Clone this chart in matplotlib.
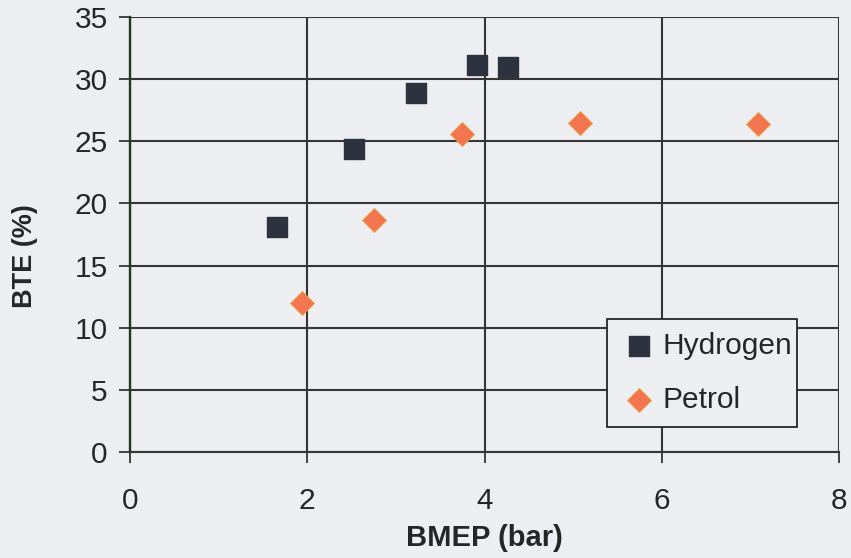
import matplotlib
matplotlib.use("Agg")
import matplotlib.pyplot as plt

# BMEP (bar) against brake thermal efficiency (%)
hydrogen_bmep = [1.66, 2.53, 3.23, 3.91, 4.26]
hydrogen_bte = [18.1, 24.4, 28.9, 31.1, 31.0]

petrol_bmep = [1.94, 2.75, 3.75, 5.08, 7.09]
petrol_bte = [12.0, 18.7, 25.6, 26.5, 26.4]

x_ticks = [0, 2, 4, 6, 8]
y_ticks = [0, 5, 10, 15, 20, 25, 30, 35]

BG = "#eceef2"
GRID = "#353535"
TEXT = "#262626"

plt.rcParams["font.family"] = ["Liberation Sans", "DejaVu Sans"]

fig = plt.figure(figsize=(8.51, 5.58), dpi=100, facecolor=BG)
ax = fig.add_axes([0.1528, 0.19, 0.8332, 0.7795], facecolor=BG)

ax.scatter(hydrogen_bmep, hydrogen_bte, marker="s", s=215, color="#2c333f",
           label="Hydrogen", zorder=3)
ax.scatter(petrol_bmep, petrol_bte, marker="D", s=150, color="#f47650",
           edgecolor="#e8a040", linewidth=0.6, label="Petrol", zorder=3)

ax.set_xlim(0, 8)
ax.set_ylim(0, 35)
ax.set_xticks(x_ticks)
ax.set_yticks(y_ticks)
ax.grid(True, color=GRID, linewidth=1.5)
ax.set_axisbelow(True)

for side in ("top", "right"):
    ax.spines[side].set_visible(False)
ax.spines["left"].set_color("#1f3a1f")
ax.spines["left"].set_linewidth(1.7)
ax.spines["bottom"].set_color(GRID)
ax.spines["bottom"].set_linewidth(1.5)

ax.tick_params(axis="both", direction="out", length=8, width=1.3,
               color=GRID, labelsize=21.5, labelcolor=TEXT)
ax.tick_params(axis="x", pad=17)
ax.tick_params(axis="y", pad=8)

ax.set_xlabel("BMEP (bar)", fontsize=21, fontweight="bold", color=TEXT)
ax.set_ylabel("BTE (%)", fontsize=19.5, fontweight="bold", color=TEXT)
ax.xaxis.set_label_coords(0.5, -0.165)
ax.yaxis.set_label_coords(-0.13, 0.45)

leg = ax.legend(loc="lower left", bbox_to_anchor=(0.673, 0.0575, 0.268, 0.25),
                mode="expand", borderaxespad=0, fontsize=21.5, frameon=True,
                fancybox=False, handletextpad=0.2, handlelength=1.2,
                borderpad=0.45, labelspacing=0.85, markerscale=1.0)
leg.get_frame().set_edgecolor(TEXT)
leg.get_frame().set_linewidth(1.3)
leg.get_frame().set_facecolor(BG)
leg.get_frame().set_alpha(1)
for text in leg.get_texts():
    text.set_color(TEXT)

fig.savefig("out.png", dpi=100, facecolor=BG)
